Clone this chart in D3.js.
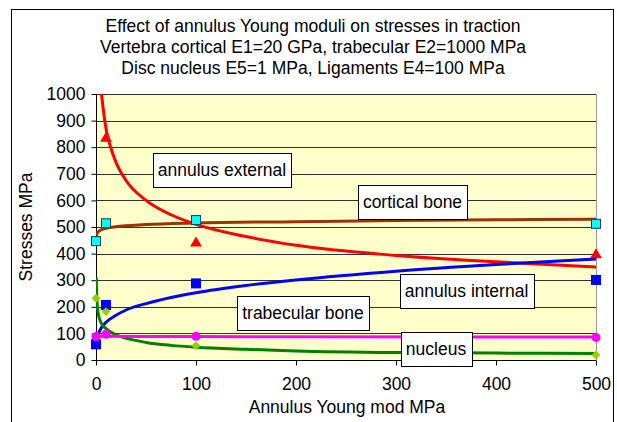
<!DOCTYPE html>
<html>
<head>
<meta charset="utf-8">
<script src="https://cdn.jsdelivr.net/npm/d3@7"></script>
<style>
  body { margin: 0; background: #fff; }
  text { font-family: "Liberation Sans", Arial, sans-serif; fill: #000; }
</style>
</head>
<body>
<svg id="chart" width="617" height="422"></svg>
<script>
// measured points (x = annulus Young modulus, MPa)
const xPoints = [0, 10, 100, 500];
const corticalPts = [447, 514, 526, 512];
const externalPts = [null, 833, 439, 395];
const internalPts = [59, 207, 288, 301];
const trabecularPts = [232, 182, 54, 19];
const nucleusPts = [88, 97, 89, 85];

// trend curves
const corticalTrendX = [0.3, 1, 2, 5, 10, 20, 50, 100, 200, 300, 400, 500];
const corticalTrend = [463, 475, 481, 489, 495, 501, 509, 515, 520, 524, 527, 529];
const externalTrendX = [5.5, 7, 10, 15, 20, 30, 50, 75, 100, 150, 200, 300, 400, 500];
const externalTrend = [1000, 950, 870, 795, 743, 675, 600, 546, 510, 464, 431, 393, 369, 350];
const internalTrendX = [1.5, 3, 5, 10, 20, 30, 50, 75, 100, 150, 200, 300, 400, 500];
const internalTrend = [88, 104, 119, 142, 168, 188, 212, 235, 253, 280, 301, 334, 359, 380];
const trabecularTrendX = [0.3, 0.5, 1, 2, 5, 10, 20, 30, 50, 75, 100, 150, 200, 300, 400, 500];
const trabecularTrend = [310, 270, 220, 180, 140, 118, 95, 82, 66, 55, 48, 40, 34, 28, 26, 24];
const nucleusTrendX = [0.3, 100, 200, 500];
const nucleusTrend = [89, 88, 87, 86];

const titleLines = [
  "Effect of annulus Young moduli on stresses in traction",
  "Vertebra cortical E1=20 GPa, trabecular E2=1000 MPa",
  "Disc nucleus E5=1 MPa, Ligaments E4=100 MPa"
];
const xTicks = [0, 100, 200, 300, 400, 500];
const yTicks = [0, 100, 200, 300, 400, 500, 600, 700, 800, 900, 1000];

const labelNames = ["annulus external", "cortical bone", "annulus internal", "trabecular bone", "nucleus"];
const labelX = [126, 316.5, 370.5, 207, 340];
const labelY = [714, 594, 259, 177, 43];

const svg = d3.select("#chart");
const pLeft = 96, pRight = 596, pTop = 94, pBottom = 360;
const fs = "17.5px";

const x = d3.scaleLinear().domain([0, 500]).range([pLeft, pRight]);
const y = d3.scaleLinear().domain([0, 1000]).range([pBottom, pTop]);

// outer chart frame
svg.append("rect")
  .attr("x", 11.5).attr("y", 9.5)
  .attr("width", 602).attr("height", 440)
  .attr("fill", "#fff").attr("stroke", "#000").attr("stroke-width", 1);

// title
svg.selectAll(".title").data(titleLines).enter().append("text")
  .attr("x", 313).attr("y", (d, i) => 32 + i * 21)
  .attr("text-anchor", "middle")
  .style("font-size", fs)
  .text(d => d);

// plot area
svg.append("rect")
  .attr("x", pLeft).attr("y", pTop)
  .attr("width", pRight - pLeft).attr("height", pBottom - pTop)
  .attr("fill", "#FFFFCC");

svg.append("defs").append("clipPath").attr("id", "clip")
  .append("rect")
  .attr("x", pLeft).attr("y", pTop)
  .attr("width", pRight - pLeft).attr("height", pBottom - pTop);

// gridlines
svg.append("g").selectAll("line").data(yTicks.slice(1)).enter().append("line")
  .attr("x1", pLeft).attr("x2", pRight)
  .attr("y1", d => Math.round(y(d)) + 0.5).attr("y2", d => Math.round(y(d)) + 0.5)
  .attr("stroke", "#333").attr("stroke-width", 1);

svg.append("line")
  .attr("x1", pRight + 0.5).attr("x2", pRight + 0.5)
  .attr("y1", pTop).attr("y2", pBottom)
  .attr("stroke", "#999");

// axes
const yAxis = svg.append("g")
  .attr("transform", `translate(${pLeft + 0.5},0)`)
  .call(d3.axisLeft(y).tickValues(yTicks).tickFormat(d3.format("d")).tickSize(5).tickPadding(6));
const xAxis = svg.append("g")
  .attr("transform", `translate(0,${pBottom + 0.5})`)
  .call(d3.axisBottom(x).tickValues(xTicks).tickFormat(d3.format("d")).tickSize(5).tickPadding(12));
[yAxis, xAxis].forEach(a => {
  a.select(".domain").attr("stroke", "#000");
  a.selectAll(".tick line").attr("stroke", "#000");
  a.selectAll(".tick text")
    .style("font-size", fs)
    .style("font-family", "'Liberation Sans', Arial, sans-serif")
    .attr("fill", "#000");
});
yAxis.select(".domain").attr("d", `M0,${pTop}V${pBottom}`);
xAxis.select(".domain").attr("d", `M${pLeft},0H${pRight}`);

// axis titles
svg.append("text")
  .attr("x", 347).attr("y", 413)
  .attr("text-anchor", "middle")
  .style("font-size", fs)
  .text("Annulus Young mod MPa");
svg.append("text")
  .attr("transform", `translate(32,${(pTop + pBottom) / 2}) rotate(-90)`)
  .attr("text-anchor", "middle")
  .style("font-size", fs)
  .text("Stresses MPa");

// trend lines
const plot = svg.append("g").attr("clip-path", "url(#clip)");
const line = d3.line().x(d => x(d[0])).y(d => y(d[1])).curve(d3.curveMonotoneX);
const trends = [
  [corticalTrendX, corticalTrend, "#993300"],
  [externalTrendX, externalTrend, "#FF0000"],
  [internalTrendX, internalTrend, "#0000FF"],
  [trabecularTrendX, trabecularTrend, "#008000"],
  [nucleusTrendX, nucleusTrend, "#FF00FF"]
];
trends.forEach(([xs, ys, c]) => {
  plot.append("path")
    .attr("d", line(xs.map((v, i) => [v, ys[i]])))
    .attr("fill", "none").attr("stroke", c).attr("stroke-width", 3);
});

// markers
const pts = vals => xPoints.map((v, i) => [v, vals[i]]).filter(d => d[1] != null);
const mk = svg.append("g");
mk.selectAll(".cort").data(pts(corticalPts)).enter().append("rect")
  .attr("x", d => x(d[0]) - 4.5).attr("y", d => y(d[1]) - 4.5)
  .attr("width", 9).attr("height", 9)
  .attr("fill", "#00FFFF").attr("stroke", "#1a3a5a").attr("stroke-width", 1);
mk.selectAll(".ext").data(pts(externalPts)).enter().append("path")
  .attr("d", d3.symbol(d3.symbolTriangle, 60))
  .attr("transform", d => `translate(${x(d[0])},${y(d[1])})`)
  .attr("fill", "#FF0000");
mk.selectAll(".int").data(pts(internalPts)).enter().append("rect")
  .attr("x", d => x(d[0]) - 5).attr("y", d => y(d[1]) - 5)
  .attr("width", 10).attr("height", 10)
  .attr("fill", "#0000FF");
mk.selectAll(".trab").data(pts(trabecularPts)).enter().append("path")
  .attr("d", d3.symbol(d3.symbolDiamond2, 50))
  .attr("transform", d => `translate(${x(d[0])},${y(d[1])})`)
  .attr("fill", "#99CC00");
mk.selectAll(".nuc").data(pts(nucleusPts)).enter().append("circle")
  .attr("cx", d => x(d[0])).attr("cy", d => y(d[1])).attr("r", 4.5)
  .attr("fill", "#FF00FF");

// labels
labelNames.forEach((name, i) => {
  const g = svg.append("g");
  const t = g.append("text")
    .attr("x", x(labelX[i])).attr("y", y(labelY[i]) + 6)
    .attr("text-anchor", "middle")
    .style("font-size", fs)
    .text(name);
  const b = t.node().getBBox();
  g.insert("rect", "text")
    .attr("x", Math.round(b.x - 5) + 0.5).attr("y", Math.round(y(labelY[i]) - 17) + 0.5)
    .attr("width", Math.round(b.width + 10)).attr("height", 34)
    .attr("fill", "#fff").attr("stroke", "#000");
});
</script>
</body>
</html>
